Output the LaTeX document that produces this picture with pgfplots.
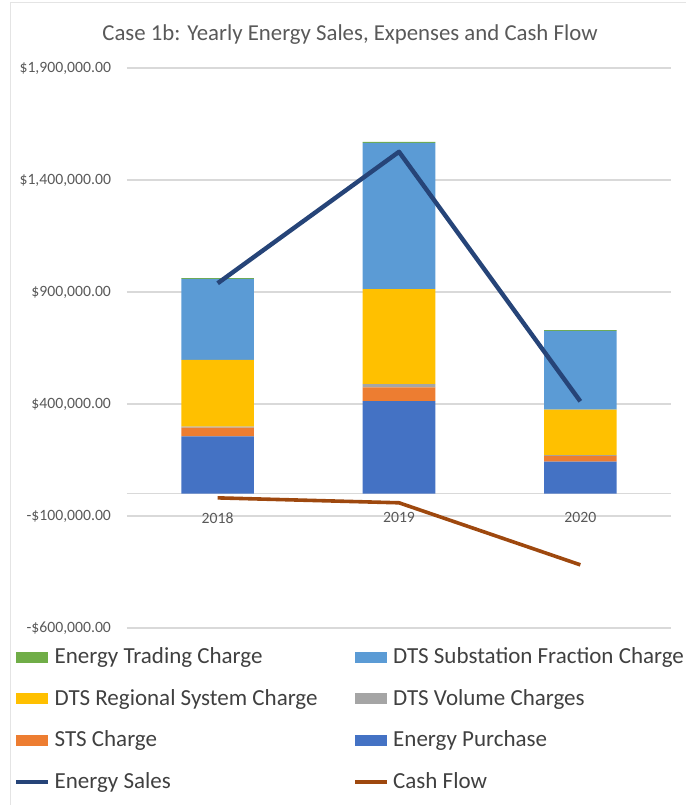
\documentclass[border=0pt]{standalone}
\usepackage{fontspec}
\setmainfont{Carlito}
\usepackage{pgfplots}
\pgfplotsset{compat=1.18}

\definecolor{cTrade}{HTML}{70AD47}
\definecolor{cSub}{HTML}{5B9BD5}
\definecolor{cReg}{HTML}{FFC000}
\definecolor{cVol}{HTML}{A5A5A5}
\definecolor{cSTS}{HTML}{ED7D31}
\definecolor{cPurch}{HTML}{4472C4}
\definecolor{cSales}{HTML}{264478}
\definecolor{cCash}{HTML}{9E480E}
\definecolor{gridgray}{HTML}{D9D9D9}
\definecolor{txtgray}{HTML}{595959}
\definecolor{legtext}{HTML}{404040}

% 1 px of the reference = 0.5pt
\pgfplotsset{
  common/.style={
    width=272pt, height=280pt, scale only axis,
    at={(63.5pt,-314pt)}, anchor=south west,
    xmin=-0.5, xmax=2.5, ymin=-600000, ymax=1900000,
  },
  barleg/.style={legend image code/.code={\path[fill=#1, draw=none] (0pt,-2.75pt) rectangle (16pt,2.75pt);}},
  lineleg/.style={legend image code/.code={\draw[##1] (0pt,0pt) -- (16pt,0pt);}},
}

\begin{document}
\begin{tikzpicture}
\useasboundingbox (0pt,0pt) rectangle (343pt,-402.5pt);
\draw[gridgray!70, line width=0.5pt] (5pt,-1pt) -- (343pt,-1pt);
\draw[gridgray!70, line width=0.5pt] (5pt,-1pt) -- (5pt,-402.5pt);
\node[font=\fontsize{11.4}{13}\selectfont, text=txtgray] at (175pt,-17.5pt)
  {Case 1b: Yearly Energy Sales, Expenses and Cash Flow};

% stacked expense bars
\begin{axis}[
  common,
  ybar stacked,
  bar width=0.4,
  axis x line=middle,
  axis y line=left,
  x axis line style={draw=gridgray, line width=0.6pt, -},
  y axis line style={draw=none},
  xtick={0,1,2},
  xticklabels={2018,2019,2020},
  ytick={-600000,-100000,400000,900000,1400000,1900000},
  yticklabels={{-\$600,000.00},{-\$100,000.00},{\$400,000.00},{\$900,000.00},{\$1,400,000.00},{\$1,900,000.00}},
  scaled y ticks=false,
  major tick length=0pt,
  ymajorgrids,
  grid style={draw=gridgray, line width=0.6pt},
  tick label style={font=\fontsize{7.85}{9}\selectfont, text=txtgray},
  xticklabel style={yshift=-6pt},
  yticklabel style={xshift=-4.5pt},
]
\addplot[fill=cPurch, draw=none] coordinates {(0,255000) (1,413000) (2,143000)};
\addplot[fill=cSTS, draw=none] coordinates {(0,40000) (1,61000) (2,25000)};
\addplot[fill=cVol, draw=none] coordinates {(0,4000) (1,15000) (2,4000)};
\addplot[fill=cReg, draw=none] coordinates {(0,298000) (1,424000) (2,203000)};
\addplot[fill=cSub, draw=none] coordinates {(0,362000) (1,653000) (2,352000)};
\addplot[fill=cTrade, draw=none] coordinates {(0,3000) (1,4000) (2,3000)};
\end{axis}

% sales and cash flow lines, legend
\begin{axis}[
  common,
  hide axis,
  legend style={
    at={(-0.219,-0.02)}, anchor=north west,
    draw=none, fill=none,
    font=\fontsize{11.5}{13}\selectfont, text=legtext,
    row sep=7.3pt,
    /tikz/every even column/.append style={column sep=16pt},
  },
  legend columns=2,
  legend cell align=left,
]
\addlegendimage{barleg=cTrade}
\addlegendentry{Energy Trading Charge}
\addlegendimage{barleg=cSub}
\addlegendentry{DTS Substation Fraction Charge}
\addlegendimage{barleg=cReg}
\addlegendentry{DTS Regional System Charge}
\addlegendimage{barleg=cVol}
\addlegendentry{DTS Volume Charges}
\addlegendimage{barleg=cSTS}
\addlegendentry{STS Charge}
\addlegendimage{barleg=cPurch}
\addlegendentry{Energy Purchase}
\addlegendimage{lineleg, draw=cSales, line width=2.2pt}
\addlegendentry{Energy Sales}
\addlegendimage{lineleg, draw=cCash, line width=1.8pt}
\addlegendentry{Cash Flow}

\addplot[forget plot, draw=cSales, line width=2.2pt, line join=round, mark=none]
  coordinates {(0,939000) (1,1526000) (2,412000)};
\addplot[forget plot, draw=cCash, line width=1.8pt, line join=round, mark=none]
  coordinates {(0,-19000) (1,-41000) (2,-318000)};
\end{axis}
\end{tikzpicture}
\end{document}
